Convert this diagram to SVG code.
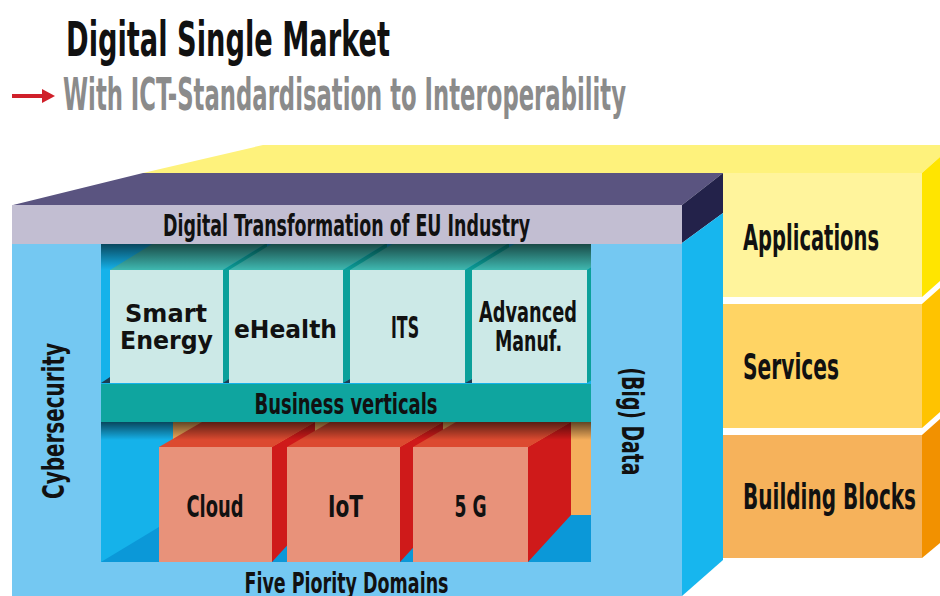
<svg xmlns="http://www.w3.org/2000/svg" width="940" height="596" viewBox="0 0 940 596">
<defs>
<style>
.c{font-family:"Liberation Sans Narrow","DejaVu Sans Condensed","Liberation Sans",sans-serif;font-weight:bold;fill:#111}
.w{font-family:"DejaVu Sans","Liberation Sans",sans-serif;font-weight:bold;fill:#111}
.tt{fill:#3fb8b0}.ts{fill:#0ba09a}.tf{fill:#cce9e7}
.rt{fill:#dc4a30}.rs{fill:#cf1a1a}.rf{fill:#e8927a}
.dk{fill:#1d3d52}
</style>
<linearGradient id="sh" x1="0" y1="0" x2="0" y2="1">
<stop offset="0" stop-color="#000" stop-opacity="0.6"/>
<stop offset="1" stop-color="#000" stop-opacity="0"/>
</linearGradient>
<clipPath id="inner"><rect x="101" y="244" width="490" height="318"/></clipPath>
</defs>
<rect width="940" height="596" fill="#fff"/>

<g id="title">
<text class="c" x="66" y="56" font-size="48" textLength="324" lengthAdjust="spacingAndGlyphs">Digital Single Market</text>
<line x1="12" y1="96" x2="44" y2="96" stroke="#d0202a" stroke-width="4"/>
<polygon points="42,89 55,96 42,103" fill="#d0202a"/>
<text class="c" x="63" y="110" font-size="44" textLength="563" lengthAdjust="spacingAndGlyphs" style="fill:#8b8b8b">With ICT-Standardisation to Interoperability</text>
</g>

<g id="layers">
<polygon points="263,145 940,145 940,157 922,173 143,173" fill="#fef27c"/>
<g id="applications">
<rect x="723" y="173" width="199" height="124" fill="#fff49c"/>
<polygon points="922,173 940,157 940,281 922,297" fill="#ffe500"/>
<text class="c" x="743" y="250" font-size="36" textLength="136" lengthAdjust="spacingAndGlyphs">Applications</text>
</g>
<g id="services">
<rect x="723" y="304" width="199" height="124" fill="#ffd464"/>
<polygon points="922,304 940,288 940,412 922,428" fill="#ffc300"/>
<text class="c" x="743" y="379" font-size="36" textLength="96" lengthAdjust="spacingAndGlyphs">Services</text>
</g>
<g id="building-blocks">
<rect x="723" y="435" width="199" height="123" fill="#f6b25b"/>
<polygon points="922,435 940,419 940,543 922,558" fill="#f29100"/>
<text class="c" x="743" y="509" font-size="36" textLength="173" lengthAdjust="spacingAndGlyphs">Building Blocks</text>
</g>
</g>

<g id="box">
<polygon points="13,205 143,173 723,173 682,205" fill="#5a5480"/>
<polygon points="682,205 723,173 723,213 682,243" fill="#23224a"/>
<polygon points="682,243 723,213 723,560 682,596" fill="#17b6ee"/>
<rect x="12" y="243" width="670" height="353" fill="#74c8f2"/>
<rect x="12" y="205" width="670" height="39" fill="#c2bed2"/>
<text class="c" x="163" y="236" font-size="30" textLength="367" lengthAdjust="spacingAndGlyphs">Digital Transformation of EU Industry</text>
<text class="c" font-size="30" text-anchor="middle" textLength="156" lengthAdjust="spacingAndGlyphs" transform="translate(64,421) rotate(-90)">Cybersecurity</text>
<text class="c" font-size="31" text-anchor="middle" textLength="108" lengthAdjust="spacingAndGlyphs" transform="translate(622,421.5) rotate(90)">(Big) Data</text>
<text class="c" x="346.5" y="593" font-size="29" text-anchor="middle" textLength="204" lengthAdjust="spacingAndGlyphs">Five Piority Domains</text>
</g>

<g id="inner" clip-path="url(#inner)">
<rect x="101" y="244" width="490" height="318" fill="#15b2ea"/>
<rect x="173" y="422" width="418" height="93" fill="#f5ae5c"/>
<polygon points="101,562 159,527 173,515 591,515 591,562" fill="#0b98d8"/>

<g id="smart-energy">
<polygon class="tt" points="110,270 223,270 267,243 154,243"/>
<polygon class="ts" points="223,270 267,243 267,356 223,383"/>
<rect class="tf" x="110" y="270" width="113" height="113"/>
<text class="w" x="166" y="322" font-size="24" text-anchor="middle" textLength="82" lengthAdjust="spacingAndGlyphs">Smart</text>
<text class="w" x="166.5" y="349" font-size="24" text-anchor="middle" textLength="93" lengthAdjust="spacingAndGlyphs">Energy</text>
</g>
<g id="ehealth">
<polygon class="tt" points="229,270 343,270 387,243 273,243"/>
<polygon class="ts" points="343,270 387,243 387,356 343,383"/>
<rect class="tf" x="229" y="270" width="114" height="113"/>
<text class="w" x="285.5" y="338" font-size="25" text-anchor="middle" textLength="103" lengthAdjust="spacingAndGlyphs">eHealth</text>
</g>
<g id="its">
<polygon class="tt" points="350,270 465,270 509,243 394,243"/>
<polygon class="ts" points="465,270 509,243 509,356 465,383"/>
<rect class="tf" x="350" y="270" width="115" height="113"/>
<text class="c" x="405" y="338" font-size="30" text-anchor="middle" textLength="28" lengthAdjust="spacingAndGlyphs">ITS</text>
</g>
<g id="advanced-manuf">
<polygon class="tt" points="472,270 587,270 631,243 516,243"/>
<polygon class="ts" points="587,270 631,243 631,356 587,383"/>
<rect class="tf" x="472" y="270" width="115" height="113"/>
<text class="c" x="528" y="322" font-size="29" text-anchor="middle" textLength="98" lengthAdjust="spacingAndGlyphs">Advanced</text>
<text class="c" x="528.5" y="351" font-size="29" text-anchor="middle" textLength="67" lengthAdjust="spacingAndGlyphs">Manuf.</text>
</g>
<polygon class="dk" points="101,383 110,383 110,377"/>
<polygon class="dk" points="223,383 229,379 229,383"/>
<polygon class="dk" points="343,383 350,379 350,383"/>
<polygon class="dk" points="465,383 472,379 472,383"/>
<rect x="101" y="244" width="490" height="26" fill="url(#sh)"/>

<g id="cloud">
<polygon class="rt" points="159,447 272,447 315,422 202,422"/>
<polygon class="rs" points="272,447 315,422 315,515 272,562"/>
<rect class="rf" x="159" y="447" width="113" height="115"/>
<text class="c" x="215" y="517" font-size="30" text-anchor="middle" textLength="57" lengthAdjust="spacingAndGlyphs">Cloud</text>
</g>
<g id="iot">
<polygon class="rt" points="287,447 400,447 443,422 330,422"/>
<polygon class="rs" points="400,447 443,422 443,515 400,562"/>
<rect class="rf" x="287" y="447" width="113" height="115"/>
<text class="c" x="345.5" y="517" font-size="30" text-anchor="middle" textLength="35" lengthAdjust="spacingAndGlyphs">IoT</text>
</g>
<g id="fiveg">
<polygon class="rt" points="413,447 528,447 571,422 456,422"/>
<polygon class="rs" points="528,447 571,422 571,515 528,562"/>
<rect class="rf" x="413" y="447" width="115" height="115"/>
<text class="c" x="470.5" y="517" font-size="30" text-anchor="middle" textLength="32" lengthAdjust="spacingAndGlyphs">5 G</text>
</g>

<g id="business-verticals">
<rect x="101" y="384" width="490" height="38" fill="#0fa59f"/>
<text class="c" x="346" y="414" font-size="28" text-anchor="middle" textLength="183" lengthAdjust="spacingAndGlyphs">Business verticals</text>
</g>
<rect x="101" y="422" width="490" height="18" fill="url(#sh)"/>
</g>
</svg>
